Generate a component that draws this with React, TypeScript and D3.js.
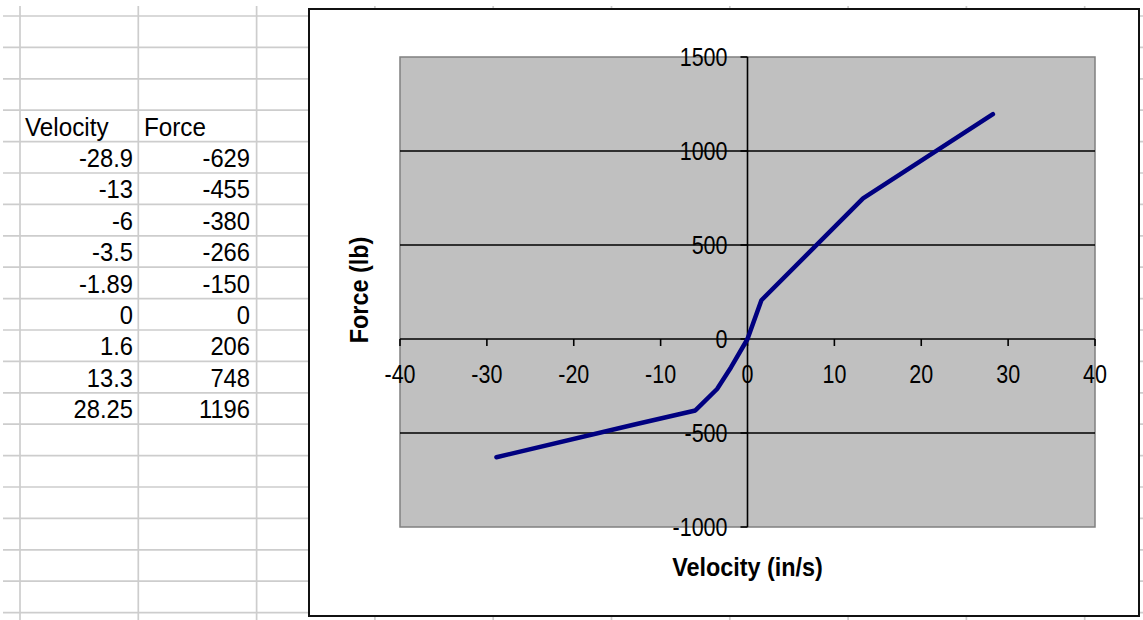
import React from "react";
import * as d3 from "d3";

// Damper test data: velocity (in/s) vs. force (lb)
const velocity = [-28.9, -13, -6, -3.5, -1.89, 0, 1.6, 13.3, 28.25];
const force = [-629, -455, -380, -266, -150, 0, 206, 748, 1196];
const velocityLabels = ["-28.9", "-13", "-6", "-3.5", "-1.89", "0", "1.6", "13.3", "28.25"];
const forceLabels = ["-629", "-455", "-380", "-266", "-150", "0", "206", "748", "1196"];
const xTicks = [-40, -30, -20, -10, 0, 10, 20, 30, 40];
const yTicks = [-1000, -500, 0, 500, 1000, 1500];
const headers = ["Velocity", "Force"];

const W = 1143;
const H = 620;
const FONT = "'Liberation Sans', Arial, sans-serif";

// Text with horizontal compression to mimic the narrow sheet font
function T({ x, y, size, anchor = "start", bold = false, sx = 0.88, rotate = 0, children }: any) {
  return (
    <text
      transform={`translate(${x},${y}) rotate(${rotate}) scale(${sx},1)`}
      fontFamily={FONT}
      fontSize={size}
      fontWeight={bold ? "bold" : "normal"}
      textAnchor={anchor}
      fill="#000"
    >
      {children}
    </text>
  );
}

export default function App() {
  // Spreadsheet grid
  const rowH = 31.4;
  const rowLines = d3.range(20).map((i) => 16 + rowH * i);
  const colW = 118.3;
  const colLines = d3.range(10).map((i) => 20 + colW * i);
  const rowBase = (i: number) => 16 + rowH * (i + 1) - 6;

  // Chart
  const x = d3.scaleLinear().domain([-40, 40]).range([400, 1095]);
  const y = d3.scaleLinear().domain([-1000, 1500]).range([527, 57]);
  const pts = velocity.map((v, i) => [v, force[i]] as [number, number]);
  const line = d3
    .line<[number, number]>()
    .x((d) => x(d[0]))
    .y((d) => y(d[1]));

  const x0 = x(0);
  const y0 = y(0);

  return (
    <div style={{ position: "absolute", left: 0, top: 0 }}>
      <svg width={W} height={H} style={{ display: "block", background: "#fff" }}>
        {/* sheet gridlines */}
        {rowLines.map((ry, i) => (
          <line key={"r" + i} x1={3} x2={W} y1={ry} y2={ry} stroke="#CDCDCD" strokeWidth={1.7} />
        ))}
        {colLines.map((cx, i) => (
          <line key={"c" + i} x1={cx} x2={cx} y1={6} y2={H} stroke="#CDCDCD" strokeWidth={1.7} />
        ))}

        {/* table */}
        <T x={25} y={rowBase(3)} size={25} sx={0.97}>{headers[0]}</T>
        <T x={144} y={rowBase(3)} size={25} sx={0.97}>{headers[1]}</T>
        {velocityLabels.map((v, i) => (
          <T key={"v" + i} x={133} y={rowBase(4 + i)} size={25} sx={0.95} anchor="end">{v}</T>
        ))}
        {forceLabels.map((f, i) => (
          <T key={"f" + i} x={250} y={rowBase(4 + i)} size={25} sx={0.95} anchor="end">{f}</T>
        ))}

        {/* chart area */}
        <rect x={309} y={9} width={830} height={607} fill="#fff" stroke="#111" strokeWidth={2} />

        {/* plot area */}
        <rect x={x(-40)} y={y(1500)} width={x(40) - x(-40)} height={y(-1000) - y(1500)} fill="#C0C0C0" stroke="#808080" strokeWidth={1.5} />

        {/* horizontal gridlines */}
        {yTicks.filter((t) => t !== 1500 && t !== -1000 && t !== 0).map((t) => (
          <line key={"g" + t} x1={x(-40)} x2={x(40)} y1={y(t)} y2={y(t)} stroke="#000" strokeWidth={1.6} />
        ))}

        {/* axes */}
        <line x1={x(-40)} x2={x(40)} y1={y0} y2={y0} stroke="#000" strokeWidth={1.6} />
        <line x1={x0} x2={x0} y1={y(1500)} y2={y(-1000)} stroke="#000" strokeWidth={1.6} />
        {xTicks.map((t) => (
          <line key={"xt" + t} x1={x(t)} x2={x(t)} y1={y0} y2={y0 + 7} stroke="#000" strokeWidth={1.6} />
        ))}
        {yTicks.map((t) => (
          <line key={"yt" + t} x1={x0 - 7} x2={x0} y1={y(t)} y2={y(t)} stroke="#000" strokeWidth={1.6} />
        ))}

        {/* tick labels */}
        {xTicks.map((t) => (
          <T key={"xl" + t} x={x(t)} y={y0 + 44} size={25} sx={0.86} anchor="middle">{String(t)}</T>
        ))}
        {yTicks.map((t) => (
          <T key={"yl" + t} x={x0 - 20} y={y(t) + 9} size={25} sx={0.86} anchor="end">{String(t)}</T>
        ))}

        {/* data */}
        <path d={line(pts) || ""} fill="none" stroke="#000080" strokeWidth={4.5} strokeLinejoin="round" strokeLinecap="round" />

        {/* axis titles */}
        <T x={x0} y={576} size={26} bold sx={0.9} anchor="middle">Velocity (in/s)</T>
        <T x={368} y={290} size={26} bold sx={0.9} anchor="middle" rotate={-90}>Force (lb)</T>
      </svg>
    </div>
  );
}
